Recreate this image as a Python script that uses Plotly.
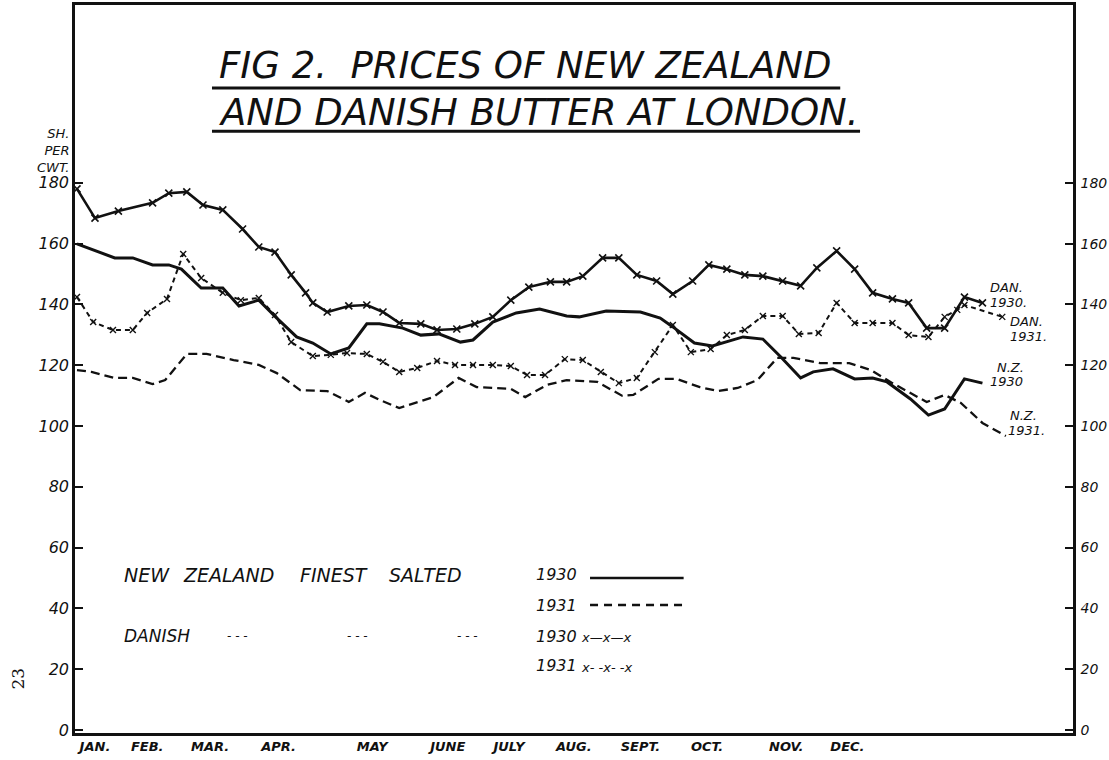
import plotly.graph_objects as go

# weekly quotations, shillings per cwt (week 0 = start of January)
dan30_week = [0, 1.0, 2.3, 4.2, 5.1, 6.1, 7.0, 8.1, 9.2, 10.1, 11.0, 11.9, 12.7, 13.1, 13.9,
              15.1, 16.1, 17.0, 17.9, 19.1, 20.0, 21.1, 22.1, 23.1, 24.1, 25.1, 26.3, 27.2,
              28.1, 29.2, 30.1, 31.1, 32.2, 33.1, 34.2, 35.1, 36.1, 37.1, 38.1, 39.2, 40.2,
              41.1, 42.2, 43.2, 44.2, 45.3, 46.2, 47.2, 48.2, 49.3, 50.3]
dan30_price = [178.0, 168.4, 170.7, 173.4, 176.6, 177.0, 172.7, 171.1, 164.8, 158.9, 157.2,
               149.7, 143.8, 140.5, 137.5, 139.5, 139.8, 137.5, 133.9, 133.6, 131.6, 131.9,
               133.6, 135.9, 141.4, 145.7, 147.4, 147.4, 149.3, 155.3, 155.3, 149.7, 147.7,
               143.4, 147.7, 153.0, 151.6, 149.7, 149.3, 147.7, 146.1, 152.0, 157.6, 151.6,
               143.8, 141.8, 140.5, 132.2, 132.2, 142.4, 140.5]

dan31_week = [0, 0.9, 2.0, 3.1, 3.9, 5.0, 5.9, 6.9, 8.1, 9.1, 10.1, 11.0, 11.9, 13.1, 14.1,
              15.0, 16.1, 17.0, 17.9, 18.9, 20.0, 21.0, 22.0, 23.1, 24.1, 25.0, 26.0, 27.1,
              28.1, 29.1, 30.1, 31.1, 32.1, 33.1, 34.1, 35.2, 36.1, 37.1, 38.1, 39.2, 40.1,
              41.2, 42.2, 43.2, 44.2, 45.3, 46.2, 47.3, 48.2, 48.9, 49.3, 51.4]
dan31_price = [142.4, 134.2, 131.6, 131.6, 137.2, 141.8, 156.6, 148.7, 143.8, 141.4, 142.1,
               136.5, 127.6, 123.0, 123.4, 124.0, 123.7, 121.1, 117.8, 119.1, 121.4, 120.1,
               120.1, 120.1, 119.7, 116.8, 116.8, 122.0, 121.7, 117.8, 114.1, 115.8, 124.3,
               133.2, 124.3, 125.3, 129.9, 131.6, 136.2, 136.2, 130.3, 130.6, 140.5, 133.9,
               133.9, 133.9, 129.9, 129.3, 135.9, 138.2, 139.8, 135.9]

nz30_week = [0, 0.9, 2.1, 3.1, 4.2, 5.1, 5.8, 6.9, 8.1, 9.0, 10.1, 11.1, 12.2, 13.1, 14.1,
             15.1, 16.1, 16.8, 18.1, 19.1, 20.1, 21.3, 22.0, 23.1, 24.4, 25.7, 27.2, 27.9,
             29.4, 31.3, 32.4, 33.1, 34.3, 35.3, 37.0, 38.1, 39.1, 40.2, 40.9, 42.0, 43.2,
             44.2, 45.0, 46.3, 47.3, 48.2, 49.3, 50.3]
nz30_price = [159.9, 157.9, 155.3, 155.3, 153.0, 153.0, 151.6, 145.4, 145.4, 139.5, 141.4,
              135.5, 129.3, 127.3, 123.7, 125.7, 133.6, 133.6, 132.2, 129.9, 130.3, 127.6,
              128.3, 134.2, 137.2, 138.5, 136.2, 135.9, 137.8, 137.5, 135.5, 132.6, 127.3,
              126.3, 129.3, 128.6, 122.7, 115.8, 117.8, 118.8, 115.5, 115.8, 114.5, 108.9,
              103.6, 105.6, 115.5, 114.1]

nz31_week = [0, 0.8, 2.1, 3.1, 4.2, 4.9, 6.1, 7.2, 8.7, 10.1, 11.1, 12.4, 13.9, 15.1, 16.0,
             16.8, 17.9, 19.8, 21.2, 22.2, 23.1, 24.1, 24.9, 26.1, 27.2, 28.9, 30.3, 30.9,
             32.3, 33.3, 34.6, 35.6, 36.7, 37.8, 38.9, 39.8, 41.3, 42.9, 44.1, 45.3, 47.2,
             48.2, 49.1, 50.3, 51.6]
nz31_price = [118.4, 117.8, 115.8, 115.8, 113.8, 115.1, 123.7, 123.7, 121.7, 120.1, 117.4,
              111.8, 111.5, 107.9, 110.9, 108.6, 105.9, 109.5, 115.8, 112.8, 112.5, 112.2,
              109.5, 113.5, 115.1, 114.5, 109.9, 110.2, 115.5, 115.5, 112.8, 111.5, 112.5,
              115.1, 122.4, 122.4, 120.7, 120.7, 118.4, 114.1, 107.9, 110.2, 107.6, 101.0, 96.7]

month_pos = [1.0, 3.9, 7.4, 11.2, 16.4, 20.6, 24.0, 27.6, 31.3, 35.0, 39.4, 42.8]
month_names = ["JAN.", "FEB.", "MAR.", "APR.", "MAY", "JUNE", "JULY", "AUG.", "SEPT.",
               "OCT.", "NOV.", "DEC."]
price_ticks = [0, 20, 40, 60, 80, 100, 120, 140, 160, 180]

INK = "#111111"
FONT = "DejaVu Sans"
XR = [-0.11, 55.33]
YR = [-1.0, 238.5]

fig = go.Figure()
fig.add_trace(go.Scatter(x=nz30_week, y=nz30_price, mode="lines",
                         line=dict(color=INK, width=3), name="N.Z. 1930"))
fig.add_trace(go.Scatter(x=nz31_week, y=nz31_price, mode="lines",
                         line=dict(color=INK, width=2.3, dash="9px,5px"), name="N.Z. 1931"))
fig.add_trace(go.Scatter(x=dan30_week, y=dan30_price, mode="lines+markers",
                         line=dict(color=INK, width=2.6),
                         marker=dict(symbol="x-thin", size=7, line=dict(color=INK, width=1.6)),
                         name="Dan. 1930"))
fig.add_trace(go.Scatter(x=dan31_week, y=dan31_price, mode="lines+markers",
                         line=dict(color=INK, width=2, dash="5px,4px"),
                         marker=dict(symbol="x-thin", size=6, line=dict(color=INK, width=1.4)),
                         name="Dan. 1931", yaxis="y2"))

ann = []


def note(x, y, text, size=13, anchor="left", **kw):
    ann.append(dict(x=x, y=y, xref="x", yref="y", text=text, showarrow=False,
                    xanchor=anchor, yanchor="middle",
                    font=dict(family=FONT, size=size, color=INK, style="italic"), **kw))


# title
note(7.8, 218.6, "FIG 2.  PRICES OF NEW ZEALAND", size=37)
note(7.8, 203.3, "AND DANISH BUTTER AT LONDON.", size=37)

# end-of-line labels
note(50.6, 145.5, "DAN.", size=13)
note(50.6, 140.5, "1930.", size=13)
note(51.7, 134.5, "DAN.", size=13)
note(51.7, 129.6, "1931.", size=13)
note(51.0, 119.3, "N.Z.", size=13)
note(50.6, 114.8, "1930", size=13)
note(51.7, 103.5, "N.Z.", size=13)
note(51.6, 98.6, "1931.", size=13)

# key
for kx, word in zip([2.5, 5.8, 12.3, 17.2], ["NEW", "ZEALAND", "FINEST", "SALTED"]):
    note(kx, 51.0, word, size=19)
note(25.4, 51.0, "1930", size=16)
note(25.4, 41.1, "1931", size=16)
note(2.5, 30.9, "DANISH", size=17)
for dx in [8.2, 14.9, 21.0]:
    note(dx, 30.9, "- - -", size=12)
note(25.4, 30.9, "1930", size=16)
note(25.4, 21.1, "1931", size=16)
note(27.9, 30.3, "x\u2014x\u2014x", size=13)
note(27.9, 20.4, "x- -x- -x", size=13)

# axis caption and page number
ann.append(dict(x=-0.004, y=0.80, xref="paper", yref="paper", showarrow=False,
                xanchor="right", yanchor="middle", align="right",
                text="SH.<br>PER<br>CWT.",
                font=dict(family=FONT, size=13, color=INK, style="italic")))
ann.append(dict(x=-0.057, y=0.075, xref="paper", yref="paper", showarrow=False,
                xanchor="center", yanchor="middle",
                text="23", textangle=-90,
                font=dict(family="DejaVu Serif", size=17, color=INK)))

shapes = [
    dict(type="line", xref="x", yref="y", x0=7.5, x1=42.4, y0=211.2, y1=211.2,
         line=dict(color=INK, width=3)),
    dict(type="line", xref="x", yref="y", x0=7.5, x1=43.5, y0=197.0, y1=197.0,
         line=dict(color=INK, width=3)),
    dict(type="line", xref="x", yref="y", x0=28.5, x1=33.7, y0=50.0, y1=50.0,
         line=dict(color=INK, width=2.5)),
    dict(type="line", xref="x", yref="y", x0=28.5, x1=33.7, y0=41.1, y1=41.1,
         line=dict(color=INK, width=2.5, dash="8px,6px")),
]

tick_font = dict(family=FONT, size=16, color=INK, style="italic")
fig.update_layout(
    width=1109, height=760,
    margin=dict(l=75, r=36, t=5, b=27),
    paper_bgcolor="white", plot_bgcolor="white",
    showlegend=False,
    annotations=ann, shapes=shapes,
    xaxis=dict(range=XR, tickvals=month_pos, ticktext=month_names, ticks="",
               showgrid=False, zeroline=False, showline=True, mirror=True,
               linecolor=INK, linewidth=2.5, automargin=False,
               tickfont=dict(family=FONT, size=13, color=INK, style="italic", weight="bold")),
    yaxis=dict(range=YR, tickvals=price_ticks, ticks="inside", ticklen=8, tickwidth=2,
               tickcolor=INK, showgrid=False, zeroline=False, showline=True,
               linecolor=INK, linewidth=2.5, tickfont=tick_font, automargin=False),
    yaxis2=dict(range=YR, overlaying="y", side="right", tickvals=price_ticks,
                ticks="inside", ticklen=8, tickwidth=2, tickcolor=INK, showgrid=False,
                zeroline=False, showline=True, linecolor=INK, linewidth=2.5,
                tickfont=dict(family=FONT, size=14, color=INK, style="italic"),
                ticklabelstandoff=2, automargin=False),
)

# drop the page's default body margin so the figure sits at the window's corner
fig.write_html("out.html", config={"displayModeBar": False},
               post_script="document.body.style.margin='0';")
